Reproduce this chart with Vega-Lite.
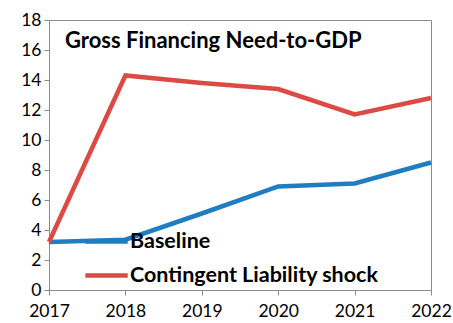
{
  "$schema": "https://vega.github.io/schema/vega-lite/v6.json",
  "width": 382,
  "height": 270,
  "autosize": {"type": "none"},
  "padding": {"left": 49, "top": 20, "right": 22, "bottom": 33},
  "background": "white",
  "config": {
    "font": "Lato",
    "view": {"stroke": "#8c8c8c", "strokeWidth": 1},
    "axis": {"grid": false, "domainColor": "#8c8c8c", "tickColor": "#8c8c8c", "tickSize": 5, "labelColor": "#000000", "labelFontSize": 17.5, "labelFont": "Lato", "title": null}
  },
  "data": {
    "values": [
      {"year": 2017, "series": "Baseline", "value": 3.2},
      {"year": 2018, "series": "Baseline", "value": 3.35},
      {"year": 2019, "series": "Baseline", "value": 5.1},
      {"year": 2020, "series": "Baseline", "value": 6.9},
      {"year": 2021, "series": "Baseline", "value": 7.1},
      {"year": 2022, "series": "Baseline", "value": 8.5},
      {"year": 2017, "series": "Contingent Liability shock", "value": 3.2},
      {"year": 2018, "series": "Contingent Liability shock", "value": 14.3},
      {"year": 2019, "series": "Contingent Liability shock", "value": 13.8},
      {"year": 2020, "series": "Contingent Liability shock", "value": 13.4},
      {"year": 2021, "series": "Contingent Liability shock", "value": 11.7},
      {"year": 2022, "series": "Contingent Liability shock", "value": 12.8}
    ]
  },
  "title": {
    "text": "Gross Financing Need-to-GDP",
    "anchor": "start",
    "frame": "group",
    "fontSize": 22,
    "fontWeight": "bold",
    "font": "Lato",
    "color": "#000000",
    "dx": 16,
    "dy": 42,
    "offset": 0
  },
  "mark": {"type": "line", "strokeWidth": 4.5, "clip": false},
  "encoding": {
    "x": {
      "field": "year", "type": "quantitative",
      "scale": {"domain": [2017, 2022], "nice": false, "zero": false},
      "axis": {"values": [2017, 2018, 2019, 2020, 2021, 2022], "format": "d", "labelPadding": 7, "labelFlush": false}
    },
    "y": {
      "field": "value", "type": "quantitative",
      "scale": {"domain": [0, 18], "nice": false},
      "axis": {"values": [0, 2, 4, 6, 8, 10, 12, 14, 16, 18], "labelPadding": 3}
    },
    "color": {
      "field": "series", "type": "nominal",
      "scale": {"domain": ["Baseline", "Contingent Liability shock"], "range": ["#1f7dc1", "#dc4a45"]},
      "legend": {
        "title": null,
        "orient": "none",
        "legendX": 34,
        "legendY": 198,
        "symbolType": "stroke",
        "symbolSize": 1800,
        "symbolStrokeWidth": 4.5,
        "labelFontSize": 21.5,
        "labelFontWeight": "bold",
        "labelFont": "Lato",
        "labelColor": "#000000",
        "labelOffset": 0,
        "rowPadding": -5,
        "labelLimit": 400
      }
    }
  }
}
